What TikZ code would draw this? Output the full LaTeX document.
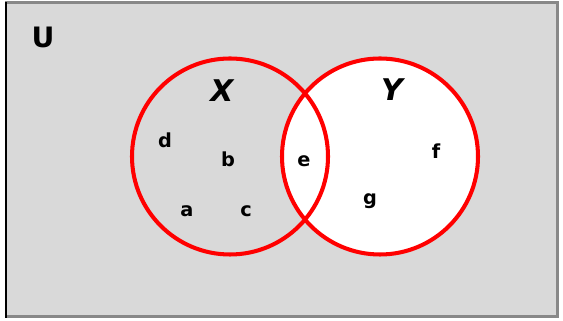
\documentclass[tikz,border=0pt]{standalone}
\usepackage{fontspec}
\setmainfont{DejaVu Sans}
\definecolor{panel}{HTML}{D9D9D9}
\definecolor{rim}{HTML}{888888}
\definecolor{ring}{HTML}{FF0000}
\tikzset{
  setlabel/.style={anchor=base,font=\fontsize{17}{19}\selectfont\bfseries\itshape},
  elem/.style={anchor=base,font=\fontsize{11}{13}\selectfont\bfseries},
  setring/.style={draw=ring,line width=2.3pt}
}

\begin{document}
\begin{tikzpicture}
  \useasboundingbox (0,0) rectangle (11.26,6.42);
  \fill[panel] (0.12,0.08) rectangle (11.14,6.36);
  \draw[rim,line width=1.7pt] (0.12,0.08) rectangle (11.14,6.36);
  \draw[black,line width=1.3pt] (0.12,0.06) -- (0.12,6.38);

  \coordinate (cX) at (4.60,3.29);
  \coordinate (cY) at (7.60,3.29);

  \fill[white] (cY) circle (1.96);
  \draw[setring] (cX) circle (1.96);
  \draw[setring] (cY) circle (1.96);

  \node[elem,font=\fontsize{16}{18}\selectfont\bfseries] (U) at (0.86,5.46) {U};
  \node[setlabel] (X) at (4.44,4.38) {X};
  \node[setlabel] (Y) at (7.84,4.40) {Y};

  \node[elem] (d) at (3.30,3.46) {d};
  \node[elem] (b) at (4.56,3.08) {b};
  \node[elem] (a) at (3.74,2.08) {a};
  \node[elem] (c) at (4.92,2.08) {c};
  \node[elem] (e) at (6.08,3.08) {e};
  \node[elem] (f) at (8.72,3.24) {f};
  \node[elem] (g) at (7.40,2.32) {g};
\end{tikzpicture}
\end{document}
